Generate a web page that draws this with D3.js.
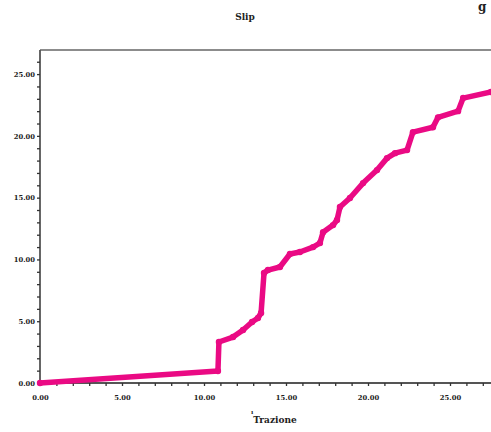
<!DOCTYPE html>
<html>
<head>
<meta charset="utf-8">
<script src="https://cdn.jsdelivr.net/npm/d3@7"></script>
<style>
  body { margin: 0; background: #fff; }
  svg text { font-family: "DejaVu Serif", "Liberation Serif", serif; font-weight: bold; fill: #222; }
</style>
</head>
<body>
<div id="chart"></div>
<script>
// Data (Trazione vs Slip)
const trazione = [0, 10.85, 10.91, 11.77, 12.38, 12.93, 13.29, 13.48, 13.66, 13.9, 14.63, 15.24, 15.85,
    16.65, 17.07, 17.26, 17.87, 18.11, 18.29, 18.9, 19.7, 20.55, 21.16, 21.65, 22.38, 22.74, 23.96,
    24.27, 25.49, 25.8, 27.5];
const slip = [0, 0.97, 3.32, 3.72, 4.29, 4.94, 5.26, 5.66, 8.9, 9.14, 9.39, 10.44, 10.6,
    11.0, 11.33, 12.2, 12.78, 13.19, 14.24, 14.97, 16.18, 17.23, 18.2, 18.6, 18.85, 20.3, 20.7,
    21.5, 22.0, 23.06, 23.55];
const xTicks = [0, 5, 10, 15, 20, 25];
const yTicks = [0, 5, 10, 15, 20, 25];

const width = 491, height = 432;
const margin = { top: 50, right: 0, bottom: 49, left: 40 };

const svg = d3.select("#chart").append("svg")
    .attr("width", width)
    .attr("height", height);

const x = d3.scaleLinear().domain([0, 27.5]).range([margin.left, width - margin.right]);
const y = d3.scaleLinear().domain([0, 26.95]).range([height - margin.bottom, margin.top]);

// Title and stray scan mark
svg.append("text").attr("x", 245).attr("y", 20).attr("text-anchor", "middle")
    .style("font-size", "9px").text("Slip");
svg.append("text").attr("x", 478).attr("y", 11)
    .style("font-size", "12px").text("g");

// Top border
svg.append("line")
    .attr("x1", margin.left).attr("x2", width)
    .attr("y1", margin.top).attr("y2", margin.top)
    .attr("stroke", "#666").attr("stroke-width", 1.4);

// Y axis: minor ticks every 1, labels every 5
const yAxis = d3.axisLeft(y)
    .tickValues(d3.range(0, 27, 1))
    .tickSize(3)
    .tickFormat(d => yTicks.includes(d) ? d.toFixed(2) : "");
const gy = svg.append("g").attr("transform", `translate(${margin.left},0)`).call(yAxis);
gy.select(".domain").attr("stroke", "#555").attr("stroke-width", 1.8)
    .attr("d", `M0,${y(0)}V${margin.top}`);
gy.selectAll(".tick line").attr("stroke", "#333").attr("stroke-width", 1.3);
gy.selectAll(".tick text").style("font-size", "6.8px").attr("x", -5).attr("fill", "#222");

// X axis
const xAxis = d3.axisBottom(x)
    .tickValues(d3.range(0, 28, 1))
    .tickSize(3)
    .tickFormat(d => xTicks.includes(d) ? d.toFixed(2) : "");
const gx = svg.append("g").attr("transform", `translate(0,${y(0)})`).call(xAxis);
gx.select(".domain").attr("stroke", "#555").attr("stroke-width", 1.8)
    .attr("d", `M${margin.left},0H${width}`);
gx.selectAll(".tick line").attr("stroke", "#333").attr("stroke-width", 1.3);
gx.selectAll(".tick text").style("font-size", "6.8px").attr("y", 12).attr("fill", "#222");

// X axis label
svg.append("text").attr("x", 251).attr("y", 414)
    .style("font-size", "6px").text("ı");
svg.append("text").attr("x", 275).attr("y", 423).attr("text-anchor", "middle")
    .style("font-size", "9px").text("Trazione");

// Curve
const pts = trazione.map((t, i) => [t, slip[i]]);
const line = d3.line().x(d => x(d[0])).y(d => y(d[1]));

svg.append("path")
    .datum(pts)
    .attr("d", line)
    .attr("fill", "none")
    .attr("stroke", "#ea0a84")
    .attr("stroke-width", 5.5)
    .attr("stroke-linejoin", "round")
    .attr("stroke-linecap", "round");

svg.append("g").selectAll("circle")
    .data(pts)
    .join("circle")
    .attr("cx", d => x(d[0]))
    .attr("cy", d => y(d[1]))
    .attr("r", 3.2)
    .attr("fill", "#ea0a84");
</script>
</body>
</html>
